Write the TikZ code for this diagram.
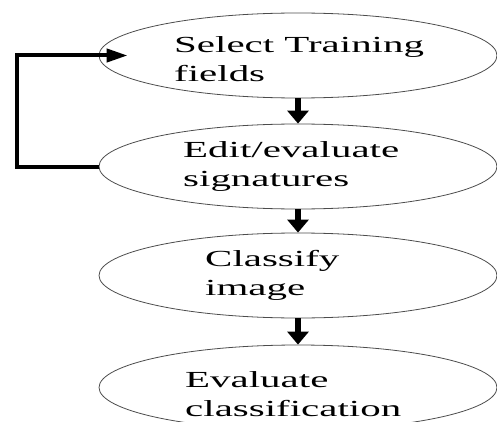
\documentclass[tikz,border=0pt]{standalone}
\usepackage{fontspec}
\setmainfont{Liberation Serif}
\usepackage{graphicx}
\usetikzlibrary{arrows.meta,shapes.geometric}
\newcommand{\wide}[1]{\scalebox{1.78}[1]{#1}}
\newcommand{\shaftwidth}{6.5pt}
\newcommand{\loopwidth}{4pt}

\begin{document}
\begin{tikzpicture}[x=1pt,y=1pt,
  stage/.style={draw=black!70, line width=0.8pt, ellipse, minimum width=398pt, minimum height=85pt, inner sep=0pt},
  stagetext/.style={anchor=base west, align=left, inner sep=0pt, font=\fontsize{23}{29}\selectfont},
  down/.style={line width=\shaftwidth, -{Triangle[length=13pt,width=21pt]}},
  back/.style={line width=\loopwidth, -{Triangle[length=21pt,width=13pt]}}]
\useasboundingbox (0,0) rectangle (497,421);
%stages
\node[stage] (sel) at (298,365.5) {};
\node[stage] (edit) at (298,254.5) {};
\node[stage] (cls) at (298,145.5) {};
\node[stage] (evl) at (298,33.5) {};
%texts
\node[stagetext] (selT) at (174,339) {\wide{Select Training}\\\wide{fields}};
\node[stagetext] (editT) at (183,235) {\wide{Edit/evaluate}\\\wide{signatures}};
\node[stagetext] (clsT) at (205,126) {\wide{Classify}\\\wide{image}};
\node[stagetext] (evlT) at (185,5) {\wide{Evaluate}\\\wide{classification}};
%arrows
\draw[down] (sel) -- (edit);
\draw[down] (edit) -- (cls);
\draw[down] (cls) -- (evl);
%feedback
\draw[back] (edit.west) -- ++(-82,0) |- ([xshift=29pt]sel.west);
\end{tikzpicture}
\end{document}
